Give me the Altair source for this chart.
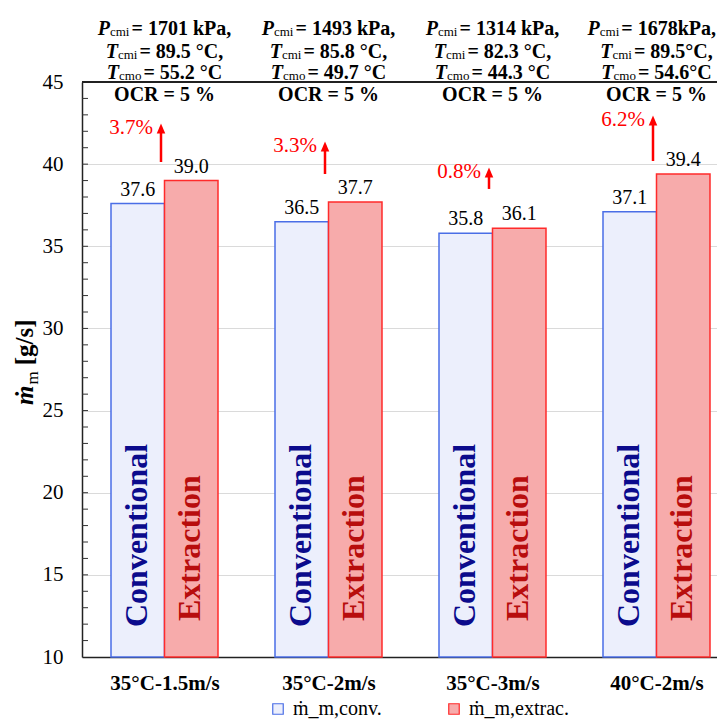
import json
import altair as alt
import pandas as pd

# ---------------- data ----------------
categories = ["35°C-1.5m/s", "35°C-2m/s", "35°C-3m/s", "40°C-2m/s"]
series = ["ṁ_m,conv.", "ṁ_m,extrac."]
bar_words = ["Conventional", "Extraction"]
conv_values = [37.6, 36.5, 35.8, 37.1]
extrac_values = [39.0, 37.7, 36.1, 39.4]
gain_labels = ["3.7%", "3.3%", "0.8%", "6.2%"]
arrow_from = [40.13, 39.4, 38.49, 40.19]
arrow_to = [41.96, 40.86, 39.28, 42.44]
p_cmi = ["= 1701 kPa,", "= 1493 kPa,", "= 1314 kPa,", "= 1678kPa,"]
t_cmi = ["= 89.5 °C,", "= 85.8 °C,", "= 82.3 °C,", "= 89.5°C,"]
t_cmo = ["= 55.2 °C", "= 49.7 °C", "= 44.3 °C", "= 54.6°C"]
ocr = ["OCR = 5 %", "OCR = 5 %", "OCR = 5 %", "OCR = 5 %"]
y_major = [10, 15, 20, 25, 30, 35, 40, 45]
y_minor = list(range(11, 45))

# ---------------- layout ----------------
W, H = 635, 575
PX = 164.0                      # pixels per group
X0 = -82.5 / PX
X1 = X0 + W / PX
BAR = 53.5 / PX                 # bar width in group units
FONT = "Liberation Serif"
CONV_FILL, CONV_STROKE = "#eceffc", "#4a6ee6"
EXT_FILL, EXT_STROKE = "#f7abab", "#ff2b2b"

REG = {' ': .25, '.': .25, ',': .25, '%': .833, '=': .564, 'k': .5, 'P': .556, 'a': .444,
       '°': .4, 'C': .667, 'c': .444, 'm': .778, 'i': .278, 'o': .5, 'T': .611,
       '[': .333, ']': .333, 'g': .5, '/': .278, 's': .389}
BOLD = {' ': .25, '.': .25, ',': .25, '%': 1.0, '=': .57, 'k': .556, 'P': .611, 'a': .5,
        '°': .4, 'C': .722, 'O': .778, 'R': .722, '[': .333, ']': .333, 'g': .5,
        '/': .278, 's': .389, 'm': .833}
BI = {'P': .611, 'T': .611, 'ṁ': .778}


def tw(s, table, size):
    return sum(table.get(ch, .5) for ch in s) * size


xscale = alt.Scale(domain=[X0, X1], nice=False, zero=False)
yscale = alt.Scale(domain=[10, 45], nice=False, zero=False)
label_expr = json.dumps(categories, ensure_ascii=False) + "[datum.value]"
xaxis = alt.Axis(values=[0, 1, 2, 3], labelExpr=label_expr, title=None, grid=False,
                 ticks=False, labelFont=FONT, labelFontWeight="bold", labelFontSize=21,
                 labelColor="black", labelPadding=15, domainColor="#222222",
                 domainWidth=1.5, labelAngle=0)
yaxis = alt.Axis(values=y_major, title=None, grid=True, gridColor="#dadada",
                 gridWidth=1, ticks=False, labelFont=FONT, labelFontSize=21,
                 labelColor="black", labelPadding=19, domainColor="#222222",
                 domainWidth=1.5)


def X(field):
    return alt.X(field, type="quantitative", scale=xscale, axis=xaxis)


def Y(field):
    return alt.Y(field, type="quantitative", scale=yscale, axis=yaxis)


# ---------------- tables ----------------
rows = []
for i in range(len(categories)):
    rows.append(dict(series=series[0], word=bar_words[0], value=conv_values[i],
                     x0=i - BAR, x1=i, xc=i - BAR / 2))
    rows.append(dict(series=series[1], word=bar_words[1], value=extrac_values[i],
                     x0=i, x1=i + BAR, xc=i + BAR / 2))
bars = pd.DataFrame(rows)

ARROW_PX = -3.5
arrows = pd.DataFrame({
    "x": [i + ARROW_PX / PX for i in range(4)],
    "xt": [i + (ARROW_PX - 8) / PX for i in range(4)],
    "y0": arrow_from, "y1": arrow_to, "label": gain_labels,
})

legend = alt.Legend(title=None, orient="none", legendX=186, legendY=617,
                    direction="horizontal", symbolType="square", symbolSize=110,
                    symbolStrokeWidth=1.2, labelFont=FONT, labelFontSize=20,
                    labelColor="black", labelOffset=5, columnPadding=62)

bar_layer = alt.Chart(bars).mark_rect(strokeWidth=1.5).encode(
    x=X("x0"), x2="x1", y=Y("value"), y2=alt.datum(10),
    fill=alt.Fill("series:N", scale=alt.Scale(domain=series, range=[CONV_FILL, EXT_FILL]),
                  legend=legend),
    stroke=alt.Stroke("series:N",
                      scale=alt.Scale(domain=series, range=[CONV_STROKE, EXT_STROKE]),
                      legend=legend),
)

value_labels = alt.Chart(bars).mark_text(
    font=FONT, fontSize=20, color="black", baseline="alphabetic", dy=-8
).encode(x=X("xc"), y=Y("value"), text=alt.Text("value:Q", format=".1f"))

word_conv = alt.Chart(bars[bars.series == series[0]]).mark_text(
    font=FONT, fontSize=32, fontWeight="bold", color="#0b0b8c", angle=270,
    align="left", baseline="alphabetic", dy=9
).encode(x=X("xc"), y=alt.value(H - 30), text="word:N")

word_ext = alt.Chart(bars[bars.series == series[1]]).mark_text(
    font=FONT, fontSize=32, fontWeight="bold", color="#b80d0d", angle=270,
    align="left", baseline="alphabetic", dy=9
).encode(x=X("xc"), y=alt.value(H - 36), text="word:N")

top_rule = alt.Chart(bars).mark_rule(color="#222222", strokeWidth=1.5).encode(
    x=alt.value(0), x2=alt.value(W), y=alt.value(0))

minor = alt.Chart(pd.DataFrame({"t": y_minor})).mark_rule(color="#333333", strokeWidth=1).encode(
    x=alt.value(0), x2=alt.value(6), y=Y("t"))

arrow_line = alt.Chart(arrows).mark_rule(color="red", strokeWidth=2.5).encode(
    x=X("x"), y=Y("y0"), y2="y1")
arrow_head = alt.Chart(arrows).mark_point(
    shape="M0,-1.7L0.85,0.3L-0.85,0.3Z", filled=True, size=100, color="red", opacity=1
).encode(x=X("x"), y=Y("y1"))
gain_text = alt.Chart(arrows).mark_text(
    font=FONT, fontSize=21, color="red", align="right", baseline="alphabetic", dy=2
).encode(x=X("xt"), y=Y("y1"), text="label:N")

# annotation rows above the plot
ann_layers = []
MAIN, SUB = 20, 13
for letter, sub, texts, yb in [("P", "cmi", p_cmi, -53), ("T", "cmi", t_cmi, -30),
                                ("T", "cmo", t_cmo, -9)]:
    recs = []
    for i, s in enumerate(texts):
        wl = tw(letter, BI, MAIN)
        ws = tw(sub, REG, SUB)
        wr = tw(s, BOLD, MAIN)
        total = wl + ws + 2 + wr
        start = -total / 2
        # keep the line inside the drawing area on the right
        over = (i * PX + 82.5 + start + total) - (W - 1)
        if over > 0:
            start -= over
        recs.append(dict(letter=letter, sub=sub, rest=s,
                         xl=i + start / PX, xs=i + (start + wl) / PX,
                         xr=i + (start + wl + ws + 2) / PX))
    d = pd.DataFrame(recs)
    base = alt.Chart(d)
    ann_layers.append(base.mark_text(font=FONT, fontSize=MAIN, fontWeight="bold",
                                     fontStyle="italic", align="left", color="black"
                                     ).encode(x=X("xl"), y=alt.value(yb), text="letter:N"))
    ann_layers.append(base.mark_text(font=FONT, fontSize=SUB, align="left", color="black"
                                     ).encode(x=X("xs"), y=alt.value(yb + 3), text="sub:N"))
    ann_layers.append(base.mark_text(font=FONT, fontSize=MAIN, fontWeight="bold",
                                     align="left", color="black"
                                     ).encode(x=X("xr"), y=alt.value(yb), text="rest:N"))

ocr_df = pd.DataFrame({"x": [0, 1, 2, 3], "t": ocr})
ann_layers.append(alt.Chart(ocr_df).mark_text(
    font=FONT, fontSize=MAIN, fontWeight="bold", color="black", baseline="alphabetic"
).encode(x=X("x"), y=alt.value(19), text="t:N"))

# rotated y-axis title  m-dot_m [g/s]
t_main, t_sub, t_rest = "ṁ", "m", "[g/s]"
TY0 = 323
TM, TS = 25, 17
w1 = tw(t_main, BI, TM)
w2 = tw(t_sub, REG, TS)
title_df = pd.DataFrame({"a": [t_main], "b": [t_sub], "c": [t_rest]})
tb = alt.Chart(title_df)
title_layers = [
    tb.mark_text(font=FONT, fontSize=TM, fontWeight="bold", fontStyle="italic", angle=270,
                 align="left", baseline="alphabetic", color="black"
                 ).encode(x=alt.value(-49), y=alt.value(TY0), text="a:N"),
    tb.mark_text(font=FONT, fontSize=TS, angle=270, align="left", baseline="alphabetic",
                 color="black").encode(x=alt.value(-44), y=alt.value(TY0 - w1 - 1), text="b:N"),
    tb.mark_text(font=FONT, fontSize=TM, fontWeight="bold", angle=270, align="left",
                 baseline="alphabetic", color="black"
                 ).encode(x=alt.value(-49), y=alt.value(TY0 - w1 - w2 - 7), text="c:N"),
]

chart = alt.layer(
    bar_layer, top_rule, minor, value_labels, word_conv, word_ext,
    arrow_line, arrow_head, gain_text, *ann_layers, *title_layers
).properties(
    width=W, height=H,
    autosize=alt.AutoSizeParams(type="none"),
    padding={"left": 74, "top": 74, "right": 0, "bottom": 64},
).configure_view(stroke=None)

chart.save("out.html", embed_options={"renderer": "svg", "actions": False})
